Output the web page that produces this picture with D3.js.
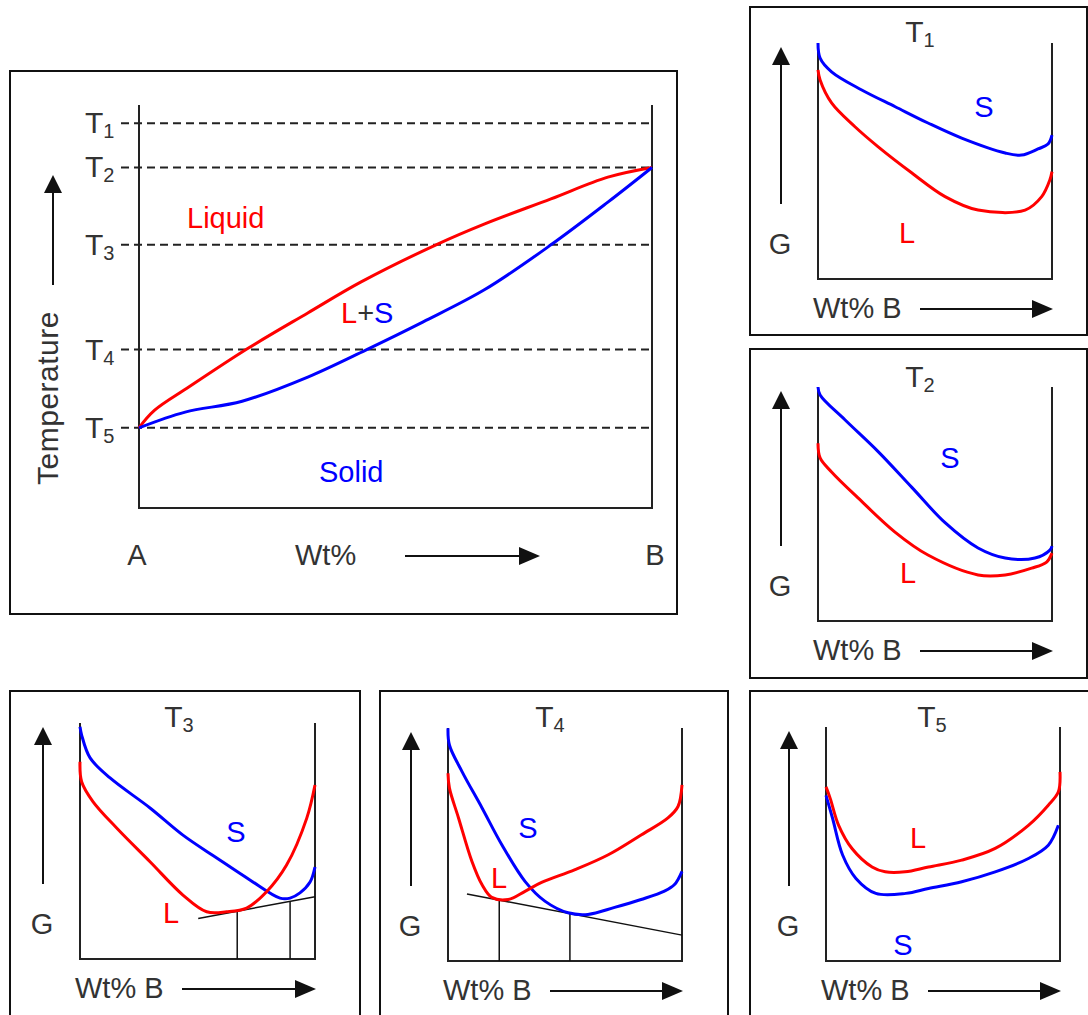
<!DOCTYPE html>
<html>
<head>
<meta charset="utf-8">
<script src="https://cdn.jsdelivr.net/npm/d3@7"></script>
<style>
    body { margin: 0; background: white; }
    text { font-family: "Liberation Sans", Arial, sans-serif; }
</style>
</head>
<body>
<script>
// Fasediagram: temperaturniveauer (T1..T5) og kurver som [Wt% B, temperatur]
const tempNames = ["1", "2", "3", "4", "5"];
const tempLevels = [95.5, 84.5, 65.3, 39.3, 19.9];
const liquidus = [[0, 19.9], [3, 24.2], [9.7, 30], [21.1, 39.5], [32.9, 48.4], [43.3, 56.1],
    [57.9, 65.3], [67.4, 70.5], [80.3, 76.7], [91.4, 82.1], [100, 84.5]];
const solidus = [[0, 19.9], [9, 23.8], [20.1, 26.5], [32.9, 32.5], [44.2, 39.2], [55.4, 46.2],
    [67.4, 54.2], [80.3, 65.3], [91.4, 75.9], [100, 84.5]];

// G-kurver for hver temperatur som [Wt% B, G]
const gL1 = [[0, 88.6], [0.9, 84.3], [5.8, 74.6], [15.8, 64.5], [25.6, 56.1], [40, 45], [54.3, 34.9],
    [68.4, 29.2], [88.5, 29.2], [95.6, 34.9], [99.1, 42], [100, 45.5]];
const gS1 = [[0, 100], [0.9, 93.6], [5.8, 87.8], [18.7, 80.1], [33, 73], [47, 66.1], [61.4, 59.7],
    [80, 53.4], [87, 52.5], [94, 55.1], [98.3, 57.2], [100, 61]];

const gL2 = [[0, 76], [0.9, 69.7], [5.8, 63.7], [17.1, 52.6], [32.9, 38], [47, 28.2], [68.4, 19.7],
    [80, 19.7], [91.3, 22.6], [97.7, 25.2], [100, 29]];
const gS2 = [[0, 100], [0.9, 96.6], [11.5, 86], [25.6, 72.5], [40.2, 57], [54.3, 42], [68.4, 31.2],
    [80, 26.9], [92.7, 26.9], [99.1, 30.3], [100, 32]];

const gL3 = [[0, 83.6], [0.7, 75.1], [5.5, 66.7], [15.6, 55.5], [29.8, 41.2], [43.8, 27.1], [53.9, 20],
    [62.4, 20], [70.9, 21.6], [79.4, 28.5], [87.9, 39.8], [96.5, 59.7], [100, 73.7]];
const gS3 = [[0, 98.4], [0.7, 94.9], [4.3, 85.2], [12.8, 76.7], [29.8, 64], [43.8, 52.5], [58.2, 42.8],
    [72.3, 33.5], [85.1, 25.8], [89.4, 25.8], [93.6, 28], [97.9, 32.6], [100, 39]];

const gL4 = [[0, 80.6], [0.6, 74.3], [4.5, 61.4], [10.2, 42.8], [14.5, 32.8], [18.7, 27.3], [25.8, 26.4],
    [32.9, 29.9], [40, 33.7], [54.3, 39.2], [68.5, 45.6], [82.7, 54.2], [94, 61.4], [98.3, 66.3], [100, 75.6]];
const gS4 = [[0, 99.9], [0.6, 92.7], [6, 81.3], [14.5, 65.8], [23, 49.9], [32.9, 34.2], [41.4, 25.7],
    [51.3, 20.7], [59.8, 20], [71.2, 23], [82.5, 26.4], [92.5, 30], [96.8, 32.8], [100, 38.5]];

const gL5 = [[0, 74.4], [1.8, 69.5], [5.4, 58], [11.1, 48.1], [19.7, 40.2], [25.3, 38.1], [33.8, 38.1],
    [43.8, 40.2], [58, 43.1], [72.3, 48.1], [86.5, 58], [95, 66.6], [99.3, 72.3], [100, 80.8]];
const gS5 = [[0, 70.8], [2.8, 61], [7.1, 45.3], [12.8, 35.3], [21.3, 28.9], [34.1, 28.9], [43.8, 31],
    [58, 33.9], [72.3, 38.1], [86.5, 43.8], [95, 49.5], [99.3, 58]];

// Fællestangenter og deres berøringspunkter
const tangent3 = [[50.3, 17.2], [100, 26.4]];
const tieX3 = [66.9, 89.4];
const tangent4 = [[8.1, 28.8], [100, 11.1]];
const tieX4 = [21.9, 52.1];

const red = "#ff0000";
const blue = "#0000ff";
const ink = "#333";
const smooth = d3.curveCatmullRom.alpha(0.5);

// Lav et SVG element
const svg = d3.select("body")
    .append("svg")
    .attr("width", 1088)
    .attr("height", 1015);

svg.append("rect")
    .attr("width", 1088)
    .attr("height", 1015)
    .attr("fill", "white");

// Små hjælpefunktioner
function arrowUp(x, yBottom, yTip) {
    svg.append("line")
        .attr("x1", x).attr("x2", x)
        .attr("y1", yBottom).attr("y2", yTip + 10)
        .attr("stroke", "#111").attr("stroke-width", 2);
    svg.append("path")
        .attr("d", `M${x},${yTip}L${x - 9},${yTip + 18}L${x + 9},${yTip + 18}Z`)
        .attr("fill", "#111");
}

function arrowRight(xStart, xTip, y) {
    svg.append("line")
        .attr("x1", xStart).attr("x2", xTip - 10)
        .attr("y1", y).attr("y2", y)
        .attr("stroke", "#111").attr("stroke-width", 2);
    svg.append("path")
        .attr("d", `M${xTip},${y}L${xTip - 21},${y - 9}L${xTip - 21},${y + 9}Z`)
        .attr("fill", "#111");
}

function tLabel(x, y, sub, anchor) {
    const t = svg.append("text")
        .attr("x", x).attr("y", y)
        .attr("fill", ink)
        .attr("font-size", 30)
        .attr("text-anchor", anchor);
    t.append("tspan").text("T");
    t.append("tspan").attr("dy", 5).attr("font-size", 20).text(sub);
}

function label(x, y, txt, color, anchor) {
    return svg.append("text")
        .attr("x", x).attr("y", y)
        .attr("fill", color)
        .attr("font-size", 29)
        .attr("text-anchor", anchor || "middle")
        .text(txt);
}

// ---------- Hoveddiagram ----------
const xScale = d3.scaleLinear().domain([0, 100]).range([139, 652]);
const yScale = d3.scaleLinear().domain([0, 100]).range([508, 105]);

svg.append("rect")
    .attr("x", 10).attr("y", 71)
    .attr("width", 667).attr("height", 543)
    .attr("fill", "none").attr("stroke", "#111").attr("stroke-width", 2);

// stiplede temperaturlinjer
svg.selectAll(".tline")
    .data(tempLevels)
    .enter()
    .append("line")
    .attr("class", "tline")
    .attr("x1", xScale(0) - 18)
    .attr("x2", xScale(100))
    .attr("y1", d => yScale(d))
    .attr("y2", d => yScale(d))
    .attr("stroke", "#222")
    .attr("stroke-width", 2)
    .attr("stroke-dasharray", "8,5");

tempLevels.forEach(function (d, i) {
    tLabel(85, yScale(d) + 10, tempNames[i], "start");
});

// akser
svg.append("path")
    .attr("d", `M${xScale(0)},${yScale(100)}V${yScale(0)}H${xScale(100)}V${yScale(100)}`)
    .attr("fill", "none").attr("stroke", "#222").attr("stroke-width", 2);

const mainLine = d3.line()
    .x(d => xScale(d[0]))
    .y(d => yScale(d[1]))
    .curve(smooth);

svg.append("path").attr("d", mainLine(liquidus))
    .attr("fill", "none").attr("stroke", red).attr("stroke-width", 3);
svg.append("path").attr("d", mainLine(solidus))
    .attr("fill", "none").attr("stroke", blue).attr("stroke-width", 3);

label(187, 228, "Liquid", red, "start");
label(319, 482, "Solid", blue, "start");
const ls = svg.append("text")
    .attr("x", 341).attr("y", 323)
    .attr("font-size", 29);
ls.append("tspan").attr("fill", red).text("L");
ls.append("tspan").attr("fill", ink).text("+");
ls.append("tspan").attr("fill", blue).text("S");

label(137, 565, "A", ink);
label(295, 565, "Wt%", ink, "start");
label(655, 565, "B", ink);
arrowRight(405, 540, 556);

arrowUp(53, 285, 175);
svg.append("text")
    .attr("transform", "translate(58,398) rotate(-90)")
    .attr("text-anchor", "middle")
    .attr("fill", ink)
    .attr("font-size", 30)
    .attr("letter-spacing", 0.5)
    .text("Temperature");

// ---------- G-diagrammer ----------
const panels = [
    { box: [750, 7, 337, 328], left: 818, right: 1052, top: 43, bottom: 279, titleX: 920, titleY: 42, name: "1",
      L: gL1, S: gS1, lPos: [907, 243], sPos: [984, 117] },
    { box: [750, 349, 337, 329], left: 818, right: 1052, top: 387, bottom: 621, titleX: 920, titleY: 387, name: "2",
      L: gL2, S: gS2, lPos: [908, 583], sPos: [950, 468] },
    { box: [10, 691, 350, 340], left: 80, right: 315, top: 723, bottom: 959, titleX: 179, titleY: 727, name: "3",
      L: gL3, S: gS3, lPos: [171, 923], sPos: [236, 842], tangent: tangent3, ties: tieX3 },
    { box: [380, 691, 348, 340], left: 448, right: 682, top: 728, bottom: 961, titleX: 550, titleY: 727, name: "4",
      L: gL4, S: gS4, lPos: [499, 888], sPos: [528, 838], tangent: tangent4, ties: tieX4 },
    { box: [750, 691, 340, 340], left: 826, right: 1060, top: 727, bottom: 961, titleX: 932, titleY: 727, name: "5",
      L: gL5, S: gS5, lPos: [918, 848], sPos: [903, 955] }
];

function drawPanel(p) {
    const x = d3.scaleLinear().domain([0, 100]).range([p.left, p.right]);
    const y = d3.scaleLinear().domain([0, 100]).range([p.bottom, p.top]);

    svg.append("rect")
        .attr("x", p.box[0]).attr("y", p.box[1])
        .attr("width", p.box[2]).attr("height", p.box[3])
        .attr("fill", "none").attr("stroke", "#111").attr("stroke-width", 2);

    svg.append("path")
        .attr("d", `M${x(0)},${y(100)}V${y(0)}H${x(100)}V${y(100)}`)
        .attr("fill", "none").attr("stroke", "#222").attr("stroke-width", 2);

    tLabel(p.titleX, p.titleY, p.name, "middle");

    arrowUp(p.left - 37, p.bottom - 75, p.top + 4);
    label(p.left - 38, p.bottom - 25, "G", ink);
    label(p.left - 5, p.bottom + 39, "Wt% B", ink, "start");
    arrowRight(p.left + 102, p.right + 1, p.bottom + 30);

    const line = d3.line()
        .x(d => x(d[0]))
        .y(d => y(d[1]))
        .curve(smooth);

    // fællestangent + lodrette linjer ned til aksen
    if (p.tangent) {
        const straight = d3.line().x(d => x(d[0])).y(d => y(d[1]));
        svg.append("path").attr("d", straight(p.tangent))
            .attr("fill", "none").attr("stroke", "#111").attr("stroke-width", 1.5);
        const slope = (p.tangent[1][1] - p.tangent[0][1]) / (p.tangent[1][0] - p.tangent[0][0]);
        svg.selectAll(null)
            .data(p.ties)
            .enter()
            .append("line")
            .attr("x1", d => x(d)).attr("x2", d => x(d))
            .attr("y1", y(0))
            .attr("y2", d => y(p.tangent[0][1] + slope * (d - p.tangent[0][0])))
            .attr("stroke", "#111").attr("stroke-width", 1.5);
    }

    svg.append("path").attr("d", line(p.S))
        .attr("fill", "none").attr("stroke", blue).attr("stroke-width", 3);
    svg.append("path").attr("d", line(p.L))
        .attr("fill", "none").attr("stroke", red).attr("stroke-width", 3);

    label(p.lPos[0], p.lPos[1], "L", red);
    label(p.sPos[0], p.sPos[1], "S", blue);
}

panels.forEach(drawPanel);
</script>
</body>
</html>
